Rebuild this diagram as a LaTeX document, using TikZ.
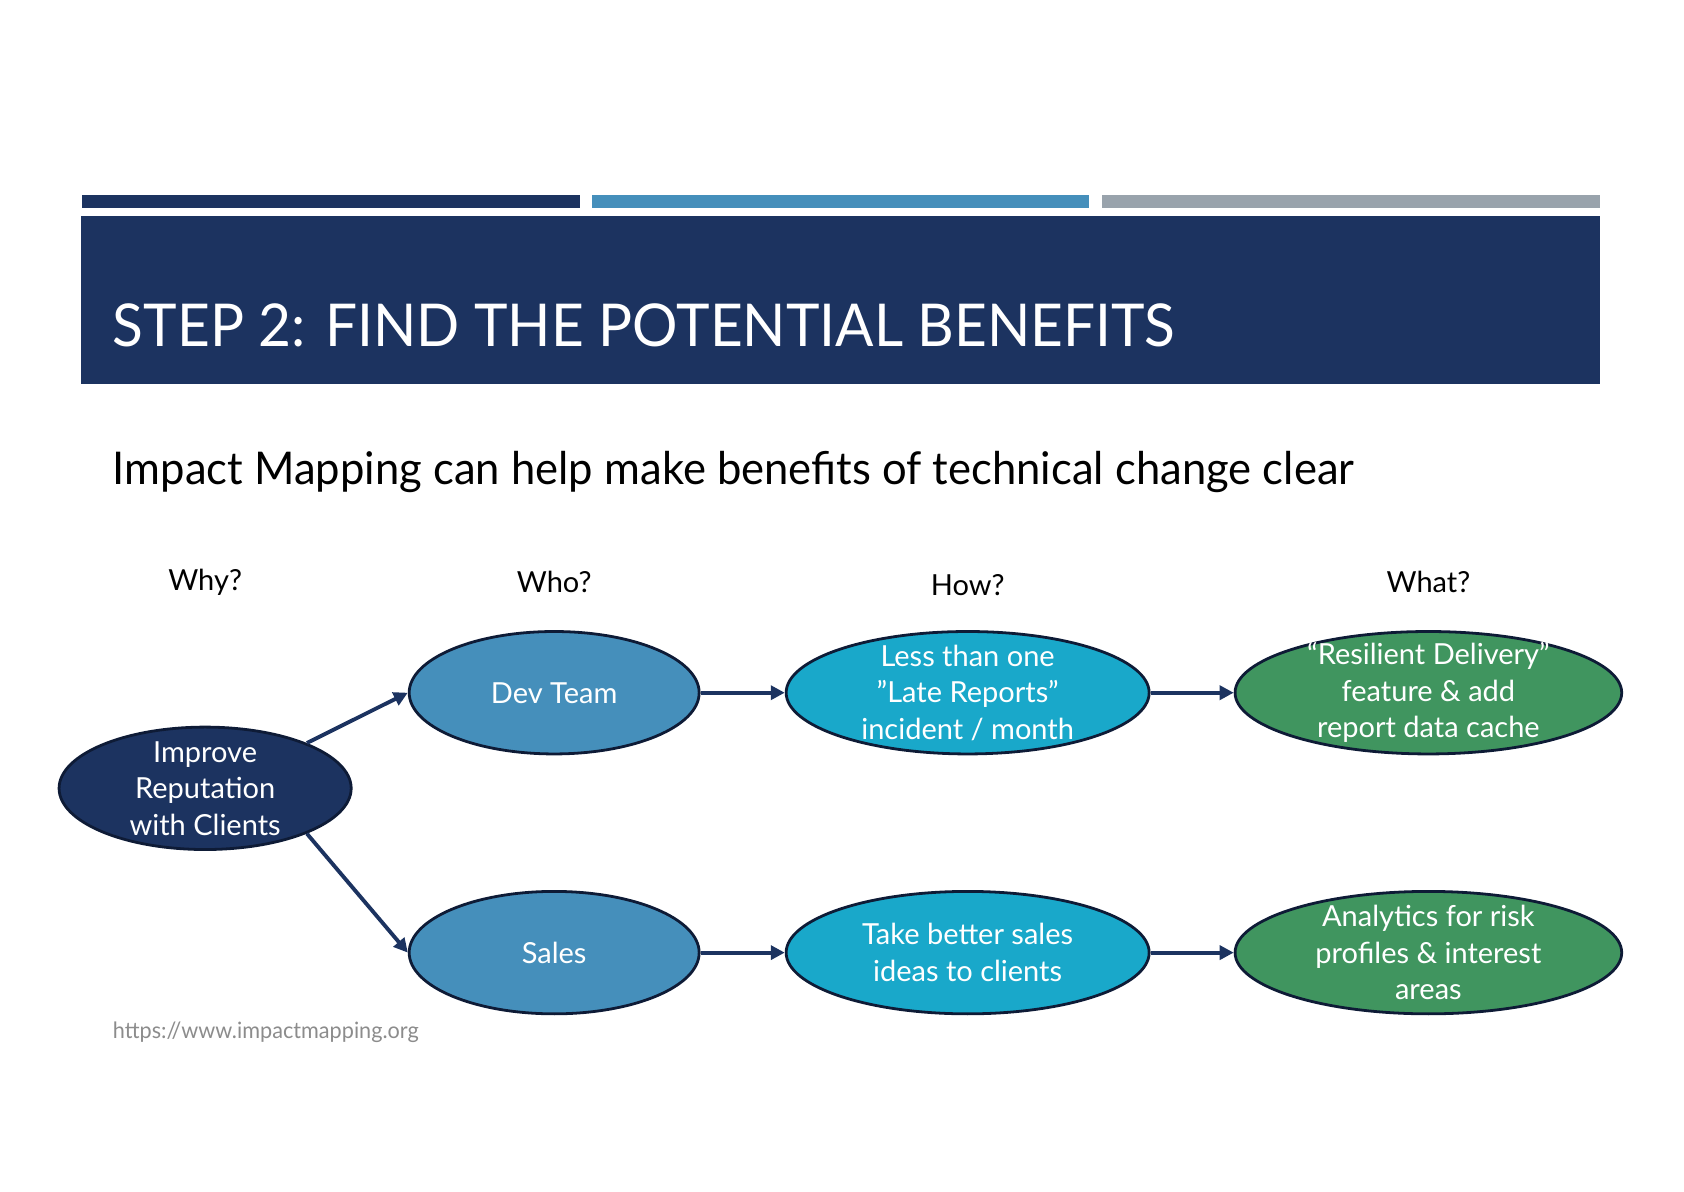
\documentclass[tikz,border=0pt]{standalone}
\usepackage{fontspec}
\setmainfont{Lato}
\usetikzlibrary{shapes.geometric,arrows.meta}
\definecolor{navy}{HTML}{1C3360}
\definecolor{midblue}{HTML}{458FBB}
\definecolor{greybar}{HTML}{99A3AC}
\definecolor{cyanfill}{HTML}{19A8CA}
\definecolor{greenfill}{HTML}{40955F}
\definecolor{edgecol}{HTML}{0E1B36}
\definecolor{urlgrey}{HTML}{8C8C8C}
\tikzset{
  blob/.style={ellipse, draw=edgecol, line width=2.6pt, text=white, align=center,
    font=\fontsize{27}{34}\selectfont, inner xsep=0pt, inner ysep=-12pt},
  goal/.style={blob, fill=navy, minimum width=272pt, minimum height=114pt},
  actor/.style={blob, fill=midblue, minimum width=270pt, minimum height=114pt},
  impact/.style={blob, fill=cyanfill, minimum width=338pt, minimum height=114pt},
  deliv/.style={blob, fill=greenfill, minimum width=360pt, minimum height=114pt},
  head/.style={font=\fontsize{27}{32}\selectfont, text=black},
  link/.style={draw=navy, line width=3.6pt, -{Triangle[length=13pt,width=13pt]}},
}
\begin{document}
\begin{tikzpicture}[x=1pt,y=-1pt]
\useasboundingbox (0,0) rectangle (1568,1109);
\fill[navy] (76,182) rectangle (540,194);
\fill[midblue] (551,182) rectangle (1014,194);
\fill[greybar] (1026,182) rectangle (1490,194);
\fill[navy] (75,201) rectangle (1490,358);
\node[anchor=base west, text=white, font=\fontsize{55}{60}\selectfont, inner sep=0pt] (title) at (105,323) {\scalebox{0.961}[1]{STEP 2: FIND THE POTENTIAL BENEFITS}};
\node[anchor=base west, text=black, font=\fontsize{42}{50}\selectfont, inner sep=0pt] (sub) at (105,451) {\scalebox{0.966}[1]{Impact Mapping can help make benefits of technical change clear}};
\node[head] (why) at (191,542) {Why?};
\node[head] (who) at (516,542) {Who?};
\node[head] (how) at (901,545) {How?};
\node[head] (what) at (1330,542) {What?};
\node[goal] (imp) at (191,734) {Improve\\Reputation\\with Clients};
\node[actor] (dev) at (516,645) {Dev Team};
\node[actor] (sales) at (516,887) {Sales};
\node[impact] (late) at (901,645) {Less than one\\”Late Reports”\\incident / month};
\node[impact] (take) at (901,887) {Take better sales\\ideas to clients};
\node[deliv] (res) at (1330,645) {“Resilient Delivery”\\feature \& add\\report data cache};
\node[deliv] (ana) at (1330,887) {Analytics for risk\\profiles \& interest\\areas};
\draw[link] (imp.24) -- (dev.west);
\draw[link] (imp.-24) -- (sales.west);
\draw[link] (dev.east) -- (late.west);
\draw[link] (late.east) -- (res.west);
\draw[link] (sales.east) -- (take.west);
\draw[link] (take.east) -- (ana.west);
\node[anchor=base west, text=urlgrey, font=\fontsize{21}{24}\selectfont, inner sep=0pt] (url) at (105,967) {\scalebox{0.96}[1]{https://www.impactmapping.org}};
\end{tikzpicture}
\end{document}
